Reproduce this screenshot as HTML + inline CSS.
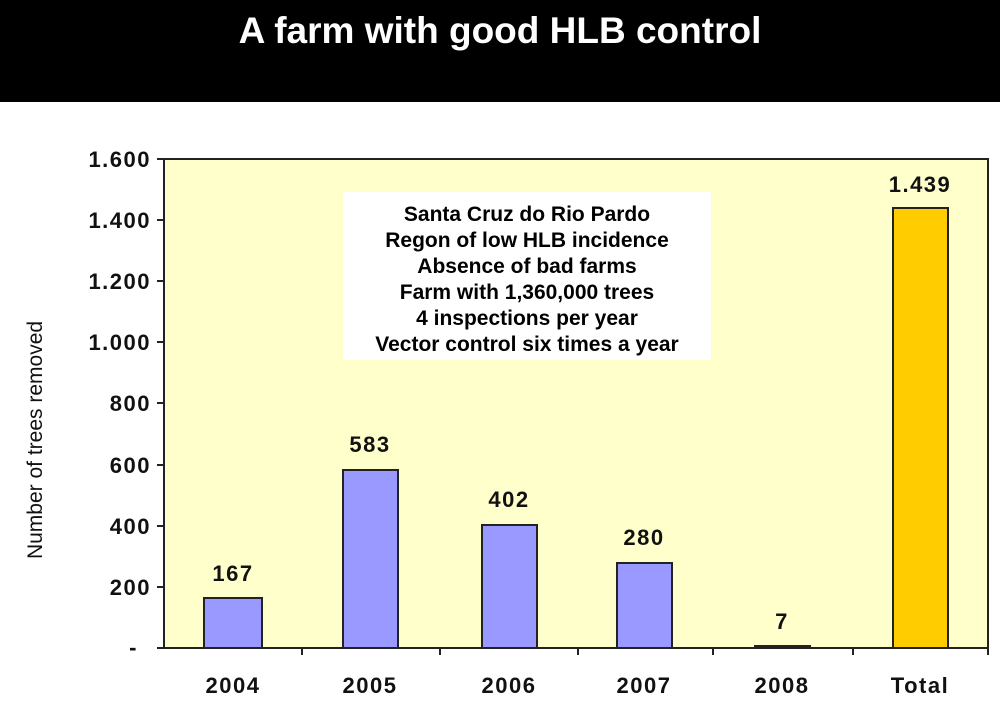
<!DOCTYPE html><html><head><style>body{margin:0;width:1000px;height:716px;background:#fff;overflow:hidden;font-family:"Liberation Sans",sans-serif}</style></head><body>
<svg width="1000" height="716" xmlns="http://www.w3.org/2000/svg" font-family="Liberation Sans, sans-serif">
<rect x="0" y="0" width="1000" height="102" fill="#000"/>
<text x="500" y="43" fill="#fff" font-size="37" font-weight="bold" text-anchor="middle">A farm with good HLB control</text>
<rect x="164" y="159" width="824" height="489" fill="#ffffcc" stroke="#222" stroke-width="2"/>
<g stroke="#222" stroke-width="2">
<line x1="157" y1="159" x2="164" y2="159"/><line x1="157" y1="220" x2="164" y2="220"/><line x1="157" y1="281" x2="164" y2="281"/><line x1="157" y1="342" x2="164" y2="342"/><line x1="157" y1="403" x2="164" y2="403"/><line x1="157" y1="465" x2="164" y2="465"/><line x1="157" y1="526" x2="164" y2="526"/><line x1="157" y1="587" x2="164" y2="587"/><line x1="157" y1="648" x2="164" y2="648"/>
<line x1="302" y1="648" x2="302" y2="655"/><line x1="440" y1="648" x2="440" y2="655"/><line x1="578" y1="648" x2="578" y2="655"/><line x1="713" y1="648" x2="713" y2="655"/><line x1="853" y1="648" x2="853" y2="655"/><line x1="988" y1="648" x2="988" y2="655"/>
</g>
<g font-size="22" font-weight="bold" text-anchor="end" fill="#111" letter-spacing="1.5">
<text x="151" y="167">1.600</text><text x="151" y="228">1.400</text><text x="151" y="289">1.200</text><text x="151" y="350">1.000</text><text x="151" y="411">800</text><text x="151" y="473">600</text><text x="151" y="534">400</text><text x="151" y="595">200</text><text x="138" y="655">-</text>
</g>
<text transform="translate(42,440) rotate(-90)" font-size="21" text-anchor="middle" fill="#111">Number of trees removed</text>
<g stroke="#222" stroke-width="2">
<rect x="204" y="598" width="58" height="50" fill="#9999ff"/>
<rect x="343" y="470" width="55" height="178" fill="#9999ff"/>
<rect x="482" y="525" width="55" height="123" fill="#9999ff"/>
<rect x="617" y="563" width="55" height="85" fill="#9999ff"/>
<rect x="755" y="646" width="55" height="2" fill="#9999ff"/>
<rect x="893" y="208" width="55" height="440" fill="#ffcc00"/>
</g>
<g font-size="22" font-weight="bold" text-anchor="middle" fill="#111" letter-spacing="1.5">
<text x="233" y="581">167</text><text x="370" y="452">583</text><text x="509" y="507">402</text><text x="644" y="545">280</text><text x="782" y="629">7</text><text x="920" y="192">1.439</text>
<text x="233" y="693">2004</text><text x="370" y="693">2005</text><text x="509" y="693">2006</text><text x="644" y="693">2007</text><text x="782" y="693">2008</text><text x="920" y="693">Total</text>
</g>
<rect x="343" y="192" width="368" height="168" fill="#fff"/>
<g font-size="21" font-weight="bold" text-anchor="middle" fill="#000">
<text x="527" y="221">Santa Cruz do Rio Pardo</text><text x="527" y="247">Regon of low HLB incidence</text><text x="527" y="273">Absence of bad farms</text><text x="527" y="299">Farm with 1,360,000 trees</text><text x="527" y="325">4 inspections per year</text><text x="527" y="351">Vector control six times a year</text>
</g>
</svg></body></html>
